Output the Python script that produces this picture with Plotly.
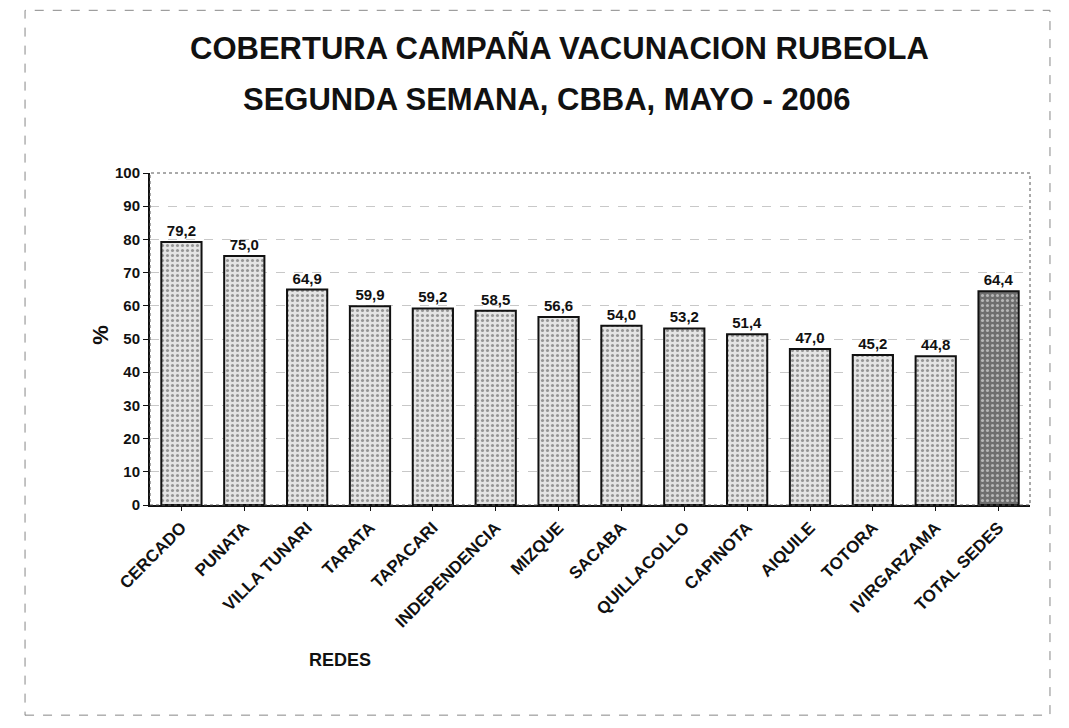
import plotly.graph_objects as go

categories = ["CERCADO", "PUNATA", "VILLA TUNARI", "TARATA", "TAPACARI", "INDEPENDENCIA",
              "MIZQUE", "SACABA", "QUILLACOLLO", "CAPINOTA", "AIQUILE", "TOTORA",
              "IVIRGARZAMA", "TOTAL SEDES"]
values = [79.2, 75.0, 64.9, 59.9, 59.2, 58.5, 56.6, 54.0, 53.2, 51.4, 47.0, 45.2, 44.8, 64.4]
y_ticks = [0, 10, 20, 30, 40, 50, 60, 70, 80, 90, 100]

labels = [f"{v:.1f}".replace(".", ",") for v in values]
colors = ["#e4e4e4"] * (len(values) - 1) + ["#6e6e6e"]
pattern_bg = ["#f0f0f0"] * (len(values) - 1) + ["#7a7a7a"]
pattern_fg = ["#9a9a9a"] * (len(values) - 1) + ["#2e2e2e"]

fig = go.Figure(go.Bar(
    x=categories, y=values,
    text=labels, textposition="outside", texttemplate="<b>%{text}</b>",
    textfont=dict(family="Arial", size=15, color="#111"),
    marker=dict(color=colors, line=dict(color="#111", width=2),
                pattern=dict(shape=".", bgcolor=pattern_bg, fgcolor=pattern_fg,
                             size=5, solidity=0.3, fillmode="overlay")),
    cliponaxis=False,
))

fig.update_layout(
    width=1069, height=728,
    paper_bgcolor="white", plot_bgcolor="white",
    margin=dict(l=142, r=47, t=165, b=231),
    bargap=0.36,
    showlegend=False,
    font=dict(family="Arial", color="#111"),
)
fig.update_yaxes(range=[0, 100], tickvals=y_ticks, ticktext=[f"<b>{t}</b>" for t in y_ticks],
                 ticks="outside", ticklen=5, tickcolor="#111",
                 tickfont=dict(family="Arial", size=15, color="#111"),
                 showline=True, linecolor="#111", linewidth=2, mirror=False,
                 showgrid=True, gridcolor="#c8c8c8", griddash="dash", gridwidth=1,
                 zeroline=False)
fig.update_xaxes(tickangle=-45, tickvals=categories, ticktext=[f"<b>{c}</b>" for c in categories],
                 tickfont=dict(family="Arial", size=17, color="#111"),
                 showline=True, linecolor="#111", linewidth=2, ticks="outside", ticklen=4,
                 tickcolor="#111")

annots = [
    dict(text="<b>COBERTURA CAMPAÑA VACUNACION RUBEOLA</b>", x=0.465, y=1.376, size=31),
    dict(text="<b>SEGUNDA SEMANA, CBBA, MAYO - 2006</b>", x=0.45, y=1.22, size=31),
    dict(text="<b>REDES</b>", x=0.216, y=-0.467, size=18),
]
for a in annots:
    fig.add_annotation(text=a["text"], x=a["x"], y=a["y"], xref="paper", yref="paper",
                       showarrow=False, xanchor="center", yanchor="middle",
                       font=dict(family="Arial", size=a["size"], color="#111"))
fig.add_annotation(text="<b>%</b>", x=-0.057, y=0.512, xref="paper", yref="paper",
                   showarrow=False, textangle=-90, xanchor="center", yanchor="middle",
                   font=dict(family="Arial", size=22, color="#111"))

# plot frame
fig.add_shape(type="rect", xref="paper", yref="paper", x0=0, x1=1, y0=0, y1=1,
              line=dict(color="#555", width=1, dash="dot"))
# scanned page frame
fig.add_shape(type="rect", xref="paper", yref="paper", x0=-0.142, x1=1.0227, y0=-0.633, y1=1.49,
              line=dict(color="#888", width=1, dash="dash"))

fig.write_html("out.html")
